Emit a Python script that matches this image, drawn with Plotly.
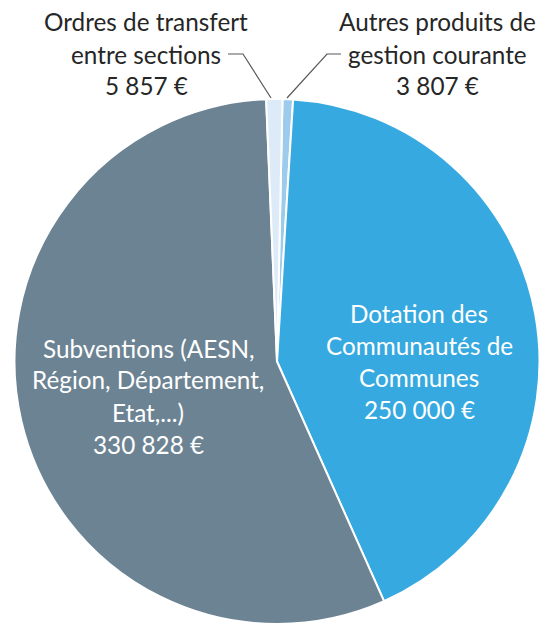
import plotly.graph_objects as go

# Data
labels = ["Autres produits de\ngestion courante",
          "Dotation des\nCommunautés de\nCommunes",
          "Subventions (AESN,\nRégion, Département,\nEtat,...)",
          "Ordres de transfert\nentre sections"]
values = [3807, 250000, 330828, 5857]
colors = ["#9DCBEC", "#36A9E0", "#6C8393", "#DDEBF8"]

W, H = 553, 624


def fmt(v):
    return f"{v:,}".replace(",", " ") + " €"


def px(x):
    return x / W


def py(y):
    return 1 - y / H


fig = go.Figure()
fig.add_trace(go.Pie(
    labels=[l.replace("\n", " ") for l in labels],
    values=values,
    sort=False,
    direction="clockwise",
    rotation=1.2,
    textinfo="none",
    textposition="none",
    marker=dict(colors=colors, line=dict(color="white", width=2)),
    domain=dict(x=[px(13), px(541)], y=[0, py(99)]),
    showlegend=False,
))

FONT = "Lato"
FS = 24.3
LINE = 32
# label block positions (layout): center x, y of first line centre
label_pos = [
    (437, 22, "#262626"),
    (419, 313, "white"),
    (148, 348, "white"),
    (146, 22, "#262626"),
]
for lab, val, (x, y, col) in zip(labels, values, label_pos):
    lines = lab.split("\n") + [fmt(val)]
    for i, ln in enumerate(lines):
        fig.add_annotation(
            x=px(x), y=py(y + i * LINE), xref="paper", yref="paper",
            text=ln, showarrow=False, xanchor="center", yanchor="middle",
            font=dict(family=FONT, size=FS, color=col),
        )

# leader lines
leaders = [
    [(228, 54), (243, 54), (271, 98)],
    [(341, 54), (327, 54), (287, 98)],
]
for pts in leaders:
    path = "M " + " L ".join(f"{px(a)},{py(b)}" for a, b in pts)
    fig.add_shape(type="path", path=path, xref="paper", yref="paper",
                  line=dict(color="#595959", width=1.2))

fig.update_layout(
    width=W, height=H,
    margin=dict(l=0, r=0, t=0, b=0),
    paper_bgcolor="white", plot_bgcolor="white",
)
fig.write_html(
    "out.html",
    config={"displayModeBar": False},
    post_script="document.body.style.margin='0';"
                "document.body.style.overflow='hidden';"
                "document.documentElement.style.overflow='hidden';",
)
